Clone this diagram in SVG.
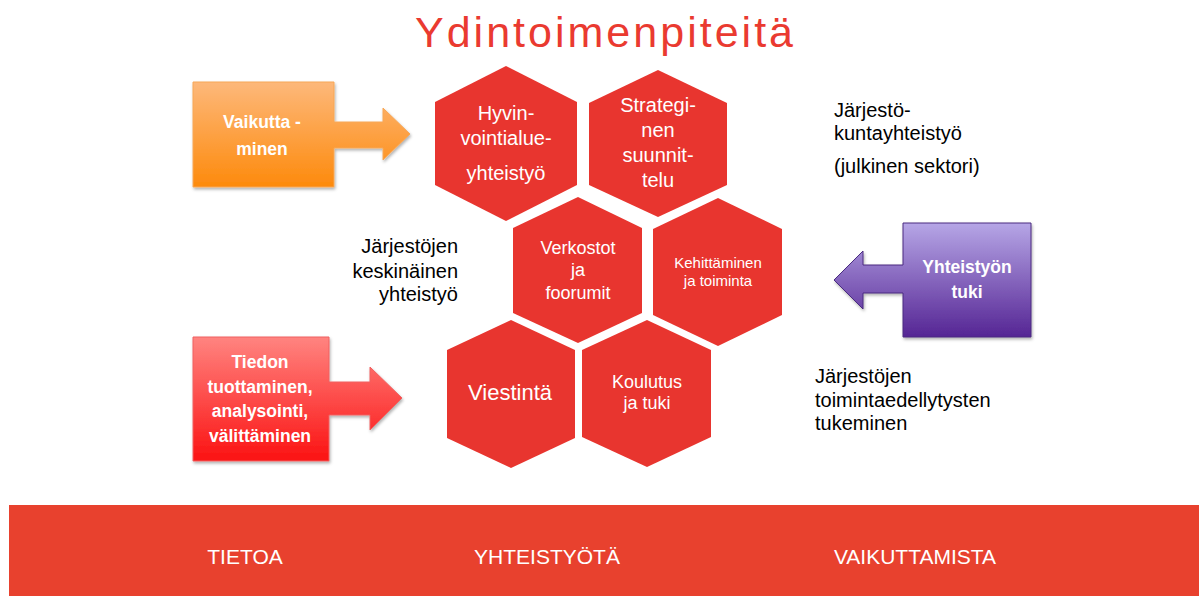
<svg xmlns="http://www.w3.org/2000/svg" width="1199" height="596" viewBox="0 0 1199 596">
<defs>
<linearGradient id="gOrange" x1="0" y1="0" x2="0" y2="1"><stop offset="0" stop-color="#fdb87a"/><stop offset="1" stop-color="#fd8a0c"/></linearGradient>
<linearGradient id="gRed" x1="0" y1="0" x2="0" y2="1"><stop offset="0" stop-color="#ff8480"/><stop offset="1" stop-color="#fb1212"/></linearGradient>
<linearGradient id="gPurple" x1="0" y1="0" x2="0" y2="1"><stop offset="0" stop-color="#b6a6e6"/><stop offset="1" stop-color="#552594"/></linearGradient>
<filter id="sh" x="-10%" y="-10%" width="130%" height="130%"><feDropShadow dx="1" dy="2" stdDeviation="1.5" flood-color="#000" flood-opacity="0.3"/></filter>
</defs>
<style>
.hex{fill:#e8352f}
.ht{fill:#fff;font-family:"Liberation Sans",Arial,sans-serif;text-anchor:middle}
.bt{fill:#fff;font-family:"Liberation Sans",Arial,sans-serif;font-weight:bold;font-size:17.5px;text-anchor:middle}
.st{fill:#000;font-family:"Liberation Sans",Arial,sans-serif;font-size:20px}
.band{fill:#fff;font-family:"Liberation Sans",Arial,sans-serif;font-size:21px;text-anchor:middle}
</style>
<rect width="1199" height="596" fill="#fff"/>
<text x="604" y="47" fill="#ea3a30" font-family="'Liberation Sans',Arial,sans-serif" font-size="43" text-anchor="middle" textLength="378" lengthAdjust="spacing">Ydintoimenpiteitä</text>

<g id="arrow-vaikuttaminen">
<path d="M193,82 H334 V122 H383 V108 L410,134 L383,160 V148 H334 V187 H193 Z" fill="url(#gOrange)" stroke="#f7a757" stroke-width="1" filter="url(#sh)"/>
<text class="bt" x="262" y="128">Vaikutta -</text>
<text class="bt" x="262" y="155">minen</text>
</g>
<g id="arrow-tiedon">
<path d="M193,337 H329 V382 H370 V367 L402,398 L370,430 V415 H329 V461 H193 Z" fill="url(#gRed)" stroke="#f06060" stroke-width="1" filter="url(#sh)"/>
<text class="bt" x="260" y="368">Tiedon</text>
<text class="bt" x="260" y="393">tuottaminen,</text>
<text class="bt" x="260" y="417">analysointi,</text>
<text class="bt" x="260" y="442">välittäminen</text>
</g>
<g id="arrow-yhteistyon-tuki">
<path d="M903,223 H1031 V337 H903 V293 H863 V309 L834,280 L863,251 V265 H903 Z" fill="url(#gPurple)" stroke="#4a2a80" stroke-width="1" filter="url(#sh)"/>
<text class="bt" x="967" y="273">Yhteistyön</text>
<text class="bt" x="967" y="298">tuki</text>
</g>

<g id="hex-hyvinvointi">
<polygon class="hex" points="506,66 577,102 577,185 506,221 435,185 435,102"/>
<text class="ht" font-size="20" x="506" y="120">Hyvin-</text>
<text class="ht" font-size="20" x="506" y="145">vointialue-</text>
<text class="ht" font-size="20" x="506" y="180">yhteistyö</text>
</g>
<g id="hex-strateginen">
<polygon class="hex" points="658,70 727,103 727,185 658,217 589,185 589,103"/>
<text class="ht" font-size="20" x="658" y="112">Strategi-</text>
<text class="ht" font-size="20" x="658" y="137">nen</text>
<text class="ht" font-size="20" x="658" y="162">suunnit-</text>
<text class="ht" font-size="20" x="658" y="187">telu</text>
</g>
<g id="hex-verkostot">
<polygon class="hex" points="578,197 642,228 642,313 578,343 513,313 513,228"/>
<text class="ht" font-size="18" x="578" y="254">Verkostot</text>
<text class="ht" font-size="18" x="578" y="276">ja</text>
<text class="ht" font-size="18" x="578" y="299">foorumit</text>
</g>
<g id="hex-kehittaminen">
<polygon class="hex" points="718,198 782,229 782,315 718,346 653,315 653,229"/>
<text class="ht" font-size="15" x="718" y="268">Kehittäminen</text>
<text class="ht" font-size="15" x="718" y="286">ja toiminta</text>
</g>
<g id="hex-viestinta">
<polygon class="hex" points="511,320 575,350 575,438 511,468 447,438 447,350"/>
<text class="ht" font-size="22" x="510" y="400">Viestintä</text>
</g>
<g id="hex-koulutus">
<polygon class="hex" points="647,320 711,350 711,437 647,467 582,437 582,350"/>
<text class="ht" font-size="18" x="647" y="388">Koulutus</text>
<text class="ht" font-size="18" x="647" y="409">ja tuki</text>
</g>

<g id="label-kunta">
<text class="st" x="834" y="117">Järjestö-</text>
<text class="st" x="834" y="140">kuntayhteistyö</text>
<text class="st" x="834" y="173">(julkinen sektori)</text>
</g>
<g id="label-keskinainen">
<text class="st" x="458" y="253" text-anchor="end">Järjestöjen</text>
<text class="st" x="458" y="278" text-anchor="end">keskinäinen</text>
<text class="st" x="458" y="301" text-anchor="end">yhteistyö</text>
</g>
<g id="label-toimintaedellytys">
<text class="st" x="815" y="383">Järjestöjen</text>
<text class="st" x="815" y="407">toimintaedellytysten</text>
<text class="st" x="815" y="430">tukeminen</text>
</g>

<g id="band">
<rect x="9" y="505" width="1190" height="91" fill="#e8412e"/>
<text class="band" x="245" y="564">TIETOA</text>
<text class="band" x="547" y="564">YHTEISTYÖTÄ</text>
<text class="band" x="915" y="564">VAIKUTTAMISTA</text>
</g>
</svg>
